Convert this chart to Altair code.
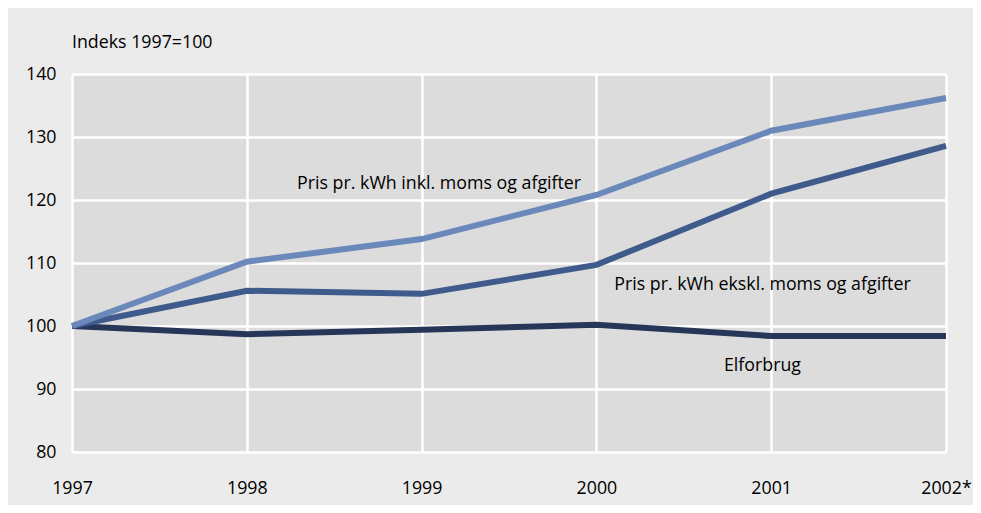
import altair as alt
import pandas as pd

years = [1997, 1998, 1999, 2000, 2001, 2002]
inkl = [100, 110.2, 113.8, 120.8, 131.0, 136.2]
ekskl = [100, 105.6, 105.1, 109.7, 121.0, 128.6]
elforbrug = [100, 98.7, 99.4, 100.2, 98.4, 98.4]

series_names = ["Elforbrug", "Pris pr. kWh ekskl. moms og afgifter", "Pris pr. kWh inkl. moms og afgifter"]
series_colors = ["#263658", "#3f5b8c", "#6b88bb"]

rows = []
for name, vals in zip(series_names, [elforbrug, ekskl, inkl]):
    for yr, v in zip(years, vals):
        rows.append({"year": yr, "value": v, "series": name, "order": series_names.index(name)})
df = pd.DataFrame(rows)

label_text = ["Pris pr. kWh inkl. moms og afgifter", "Pris pr. kWh ekskl. moms og afgifter", "Elforbrug"]
label_x = [1999.1, 2000.95, 2000.95]
label_y = [122.5, 106.5, 93.6]
labels = pd.DataFrame({"text": label_text, "x": label_x, "y": label_y})

FONT = "Open Sans"
FS = 17.8

xscale = alt.Scale(domain=[1997, 2002], nice=False, zero=False)
yscale = alt.Scale(domain=[80, 140], nice=False, zero=False)

lines = alt.Chart(df).mark_line(strokeWidth=6, strokeCap="butt", strokeJoin="miter").encode(
    x=alt.X("year:Q", scale=xscale,
            axis=alt.Axis(values=years, title=None, ticks=False, domain=False, grid=True,
                          gridColor="white", gridWidth=2.5, gridOpacity=1,
                          labelPadding=27, labelFontSize=FS, labelFont=FONT, labelColor="#000",
                          labelExpr="datum.value == 2002 ? '2002*' : format(datum.value, 'd')",
                          labelFlush=False)),
    y=alt.Y("value:Q", scale=yscale,
            axis=alt.Axis(values=[80, 90, 100, 110, 120, 130, 140], title=None, ticks=False, domain=False,
                          grid=True, gridColor="white", gridWidth=2.5, gridOpacity=1,
                          labelPadding=16, labelFontSize=FS, labelFont=FONT, labelColor="#000")),
    color=alt.Color("series:N", scale=alt.Scale(domain=series_names, range=series_colors), legend=None),
    order=alt.Order("order:Q"),
    detail="series:N",
)

text = alt.Chart(labels).mark_text(fontSize=FS, font=FONT, color="#000", align="center", baseline="middle").encode(
    x=alt.X("x:Q", scale=xscale),
    y=alt.Y("y:Q", scale=yscale),
    text="text:N",
)

chart = alt.layer(lines, text).properties(
    width=874,
    height=378,
    padding={"left": 64, "top": 66, "right": 27, "bottom": 53},
    autosize=alt.AutoSizeParams(type="none"),
    background="#ebebeb",
    title=alt.TitleParams("Indeks 1997=100", anchor="start", font=FONT, fontSize=FS, fontWeight="normal",
                          color="#000", offset=13, frame="group"),
).configure_view(fill="#dcdcdc", stroke=None)

chart.save("out.html", embed_options={"renderer": "svg", "actions": False})
